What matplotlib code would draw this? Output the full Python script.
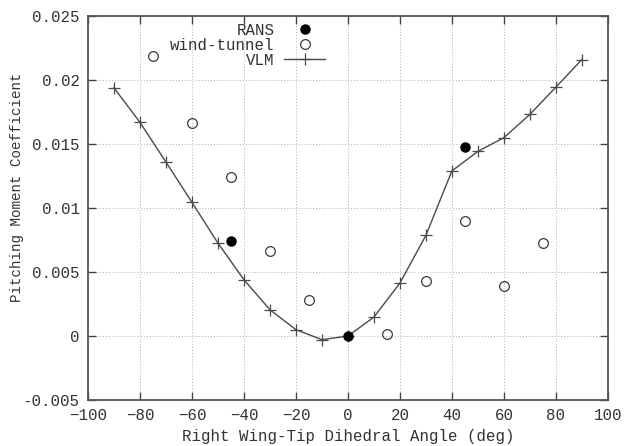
import matplotlib
matplotlib.use("Agg")
import matplotlib.pyplot as plt

# dihedral angle sweep (deg) and pitching moment coefficients
vlm_angle = [-90, -80, -70, -60, -50, -40, -30, -20, -10, 0, 10, 20, 30, 40, 50, 60, 70, 80, 90]
vlm_cm = [0.0194, 0.0167, 0.0136, 0.01045, 0.00727, 0.0044, 0.00206, 0.0005, -0.00028, 0.0,
          0.00148, 0.00414, 0.00787, 0.0129, 0.01443, 0.0155, 0.01732, 0.01945, 0.0216]
wt_angle = [-75, -60, -45, -30, -15, 15, 30, 45, 60, 75]
wt_cm = [0.02185, 0.01662, 0.01242, 0.00664, 0.00284, 0.00013, 0.00427, 0.00902, 0.00394, 0.00727]
rans_angle = [-45, 0, 45]
rans_cm = [0.0074, 0.0, 0.01474]

xticks = list(range(-100, 101, 20))
yticks = [-0.005, 0, 0.005, 0.01, 0.015, 0.02, 0.025]
ylabels = ["-0.005", "0", "0.005", "0.01", "0.015", "0.02", "0.025"]

plt.rcParams["font.family"] = ["Liberation Mono", "DejaVu Sans Mono"]
plt.rcParams["font.size"] = 11.3

fig = plt.figure(figsize=(6.28, 4.46), dpi=100)
ax = fig.add_axes([0.140, 0.103, 0.828, 0.861])

ax.plot(rans_angle, rans_cm, "o", color="black", ms=6.5, label="RANS", zorder=4)
ax.plot(wt_angle, wt_cm, "o", mfc="none", mec="#3a3a3a", mew=0.9, ms=7, label="wind-tunnel", zorder=3)
ax.plot(vlm_angle, vlm_cm, "-", marker="+", color="#4a4a4a", lw=1.0, ms=8, mew=0.9, label="VLM", zorder=2)

ax.set_xlim(-100, 100)
ax.set_ylim(-0.005, 0.025)
ax.set_xticks(xticks)
ax.set_yticks(yticks)
ax.set_yticklabels(ylabels)
ax.grid(True, ls=(0, (1, 2)), color="#b0b0b0", lw=0.7)
ax.tick_params(direction="in", top=True, right=True, length=6, width=1.0, color="#444444",
               labelcolor="#333333", pad=6)
for s in ax.spines.values():
    s.set_color("#555555")
    s.set_linewidth(1.3)

ax.set_xlabel("Right Wing-Tip Dihedral Angle (deg)", color="#333333", labelpad=4)
ax.set_ylabel("Pitching Moment Coefficient", color="#333333", fontsize=10.2)
ax.yaxis.set_label_coords(-0.123, 0.553)

leg = ax.legend(loc="upper right", bbox_to_anchor=(0.474, 1.007), markerfirst=False, frameon=False,
                handlelength=2.6, labelspacing=0.0, handletextpad=0.6, borderaxespad=0.2)
for t in leg.get_texts():
    t.set_color("#333333")

fig.savefig("out.png", dpi=100)
